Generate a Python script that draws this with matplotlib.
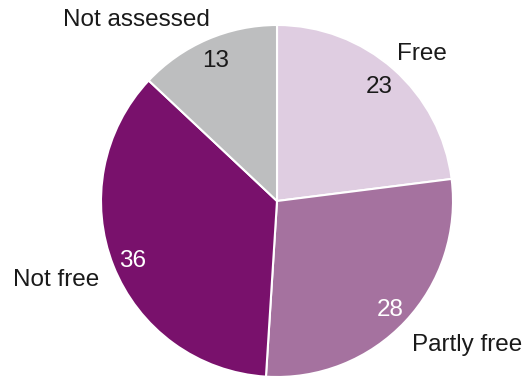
import matplotlib
matplotlib.use("Agg")
import matplotlib.pyplot as plt

categories = ["Free", "Partly free", "Not free", "Not assessed"]
values = [23, 28, 36, 13]
colors = ["#dfcde1", "#a5729f", "#79116c", "#bdbebf"]
num_colors = ["#1a1a1a", "white", "white", "#1a1a1a"]

# label placement (pixel coords from top-left, horizontal alignment)
label_pos = [(397, 51, "left"), (412, 342, "left"), (99, 277, "right"), (210, 17, "right")]

W, H = 527, 377
fig = plt.figure(figsize=(W / 100, H / 100), dpi=100)
ax = fig.add_axes([0, 0, 1, 1])

FONT = ["Liberation Sans", "DejaVu Sans"]

wedges, texts, autotexts = ax.pie(
    values,
    labels=categories,
    colors=colors,
    startangle=90,
    counterclock=False,
    center=(277, 176),
    radius=176,
    frame=True,
    labeldistance=1.1,
    pctdistance=0.88,
    autopct=lambda p: f"{p:.0f}",
    wedgeprops=dict(edgecolor="white", linewidth=1.5),
    textprops=dict(fontsize=17.5, family=FONT),
)
ax.set_xlim(0, W)
ax.set_ylim(0, H)
ax.set_aspect("equal")
ax.axis("off")
for t, c in zip(autotexts, num_colors):
    t.set_color(c)
    t.set_va("center_baseline")
for t, (x, y, ha) in zip(texts, label_pos):
    t.set_color("#1a1a1a")
    t.set_position((x, H - y))
    t.set_ha(ha)
    t.set_va("center_baseline")

fig.savefig("out.png", dpi=100)
